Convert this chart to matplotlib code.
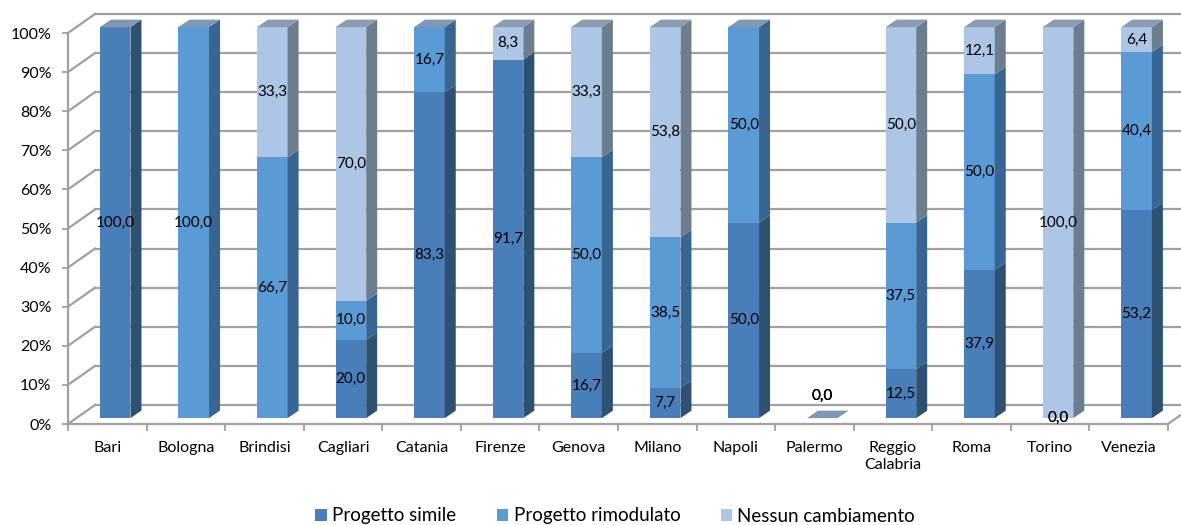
import matplotlib.pyplot as plt
from matplotlib.patches import Polygon, Patch

cities = ["Bari", "Bologna", "Brindisi", "Cagliari", "Catania", "Firenze", "Genova",
          "Milano", "Napoli", "Palermo", "Reggio\nCalabria", "Roma", "Torino", "Venezia"]
# None = empty cell (no label), 0.0 = zero shown as label
simile = [100.0, None, None, 20.0, 83.3, 91.7, 16.7, 7.7, 50.0, 0.0, 12.5, 37.9, 0.0, 53.2]
rimodulato = [None, 100.0, 66.7, 10.0, 16.7, None, 50.0, 38.5, 50.0, 0.0, 37.5, 50.0, 0.0, 40.4]
nessun = [None, None, 33.3, 70.0, None, 8.3, 33.3, 53.8, None, 0.0, 50.0, 12.1, 100.0, 6.4]
series_names = ["Progetto simile", "Progetto rimodulato", "Nessun cambiamento"]

front_col = ["#4a7ebb", "#5b9bd5", "#adc6e5"]
side_col = ["#2e5071", "#386591", "#6c7d90"]
top_col = ["#7f97b2", "#7f98b4", "#8b9bb0"]
grid_col = "#a0a0a0"

plt.rcParams['font.family'] = ['Lato', 'DejaVu Sans']

# fake 3D geometry (data units)
wdx, wdy = 0.343, 4.86      # depth of the walls
bshift, bw = 0.10, 0.39     # bar front offset / width
base = 1.5                  # bar base above the front floor edge
bdx, bdy = 0.14, 1.92       # bar depth

fig = plt.figure(figsize=(11.81, 5.25), dpi=100)
ax = fig.add_axes([68 / 1181, 101 / 525, 1100 / 1181, 391 / 525])
ax.set_xlim(-0.5, 13.5)
ax.set_ylim(0, 100)
for s in ax.spines.values():
    s.set_visible(False)

n = len(cities)
# walls / grid
for v in range(0, 101, 10):
    ax.plot([-0.5, -0.5 + wdx], [v, v + wdy], color=grid_col, lw=1.6, clip_on=False, zorder=1)
    ax.plot([-0.5 + wdx, n - 0.5 + wdx + 0.5], [v + wdy, v + wdy], color=grid_col, lw=1.6,
            clip_on=False, zorder=1)
ax.plot([-0.5, -0.5], [0, 100], color=grid_col, lw=1.6, clip_on=False, zorder=1)
ax.plot([-0.5, n - 0.5], [0, 0], color=grid_col, lw=1.6, clip_on=False, zorder=1)
ax.plot([n - 0.5, n - 0.5 + wdx], [0, wdy], color=grid_col, lw=1.6, clip_on=False, zorder=1)


def top_face(xl, xr, y, color):
    ax.add_patch(Polygon([(xl, y), (xr, y), (xr + bdx, y + bdy), (xl + bdx, y + bdy)],
                         closed=True, facecolor=color, edgecolor='none', zorder=4, clip_on=False))


data = [simile, rimodulato, nessun]
for i in range(n):
    xc = i + bshift
    xl, xr = xc - bw / 2, xc + bw / 2
    bottom = 0.0
    total = sum(d[i] or 0 for d in data)
    last = max([k for k, d in enumerate(data) if (d[i] or 0) > 0], default=0)
    for k, d in enumerate(data):
        v = d[i]
        if v is None:
            continue
        y0, y1 = base + bottom, base + bottom + v
        if v > 0:
            ax.bar(xc, v, bottom=base + bottom, width=bw, color=front_col[k], zorder=3, clip_on=False)
            ax.add_patch(Polygon([(xr, y0), (xr + bdx, y0 + bdy), (xr + bdx, y1 + bdy), (xr, y1)],
                                 closed=True, facecolor=side_col[k], edgecolor='none', zorder=3,
                                 clip_on=False))
            if k == last:
                top_face(xl, xr, y1, top_col[k])
        ly = (y0 + y1) / 2
        if total == 0:
            ly = base + 5.6
            if k == 0:
                top_face(xl, xr, y1, top_col[0])
        ax.text(xc, ly, f"{v:.1f}".replace(".", ","), ha='center', va='center',
                fontsize=11, color='black', zorder=6)
        bottom += v

# ticks
ax.set_yticks(range(0, 101, 10))
ax.set_yticklabels([f"{v}%" for v in range(0, 101, 10)])
ax.tick_params(axis='y', length=4, width=1.3, color=grid_col, pad=8, labelsize=11.5)
ax.set_xticks(range(n))
ax.set_xticklabels(cities, linespacing=1.3)
ax.set_xticks([i - 0.5 for i in range(n + 1)], minor=True)
ax.tick_params(axis='x', which='major', length=0, pad=12, labelsize=11.5)
ax.tick_params(axis='x', which='minor', length=5, width=1.3, color=grid_col)

handles = [Patch(facecolor=c, edgecolor='none') for c in front_col]
fig.legend(handles, series_names, loc='center', bbox_to_anchor=(0.521, 9 / 525),
           ncol=3, frameon=False, fontsize=13.5, handlelength=0.6, handleheight=0.6,
           handletextpad=0.3, columnspacing=2.15)

fig.savefig("out.png", dpi=100)
